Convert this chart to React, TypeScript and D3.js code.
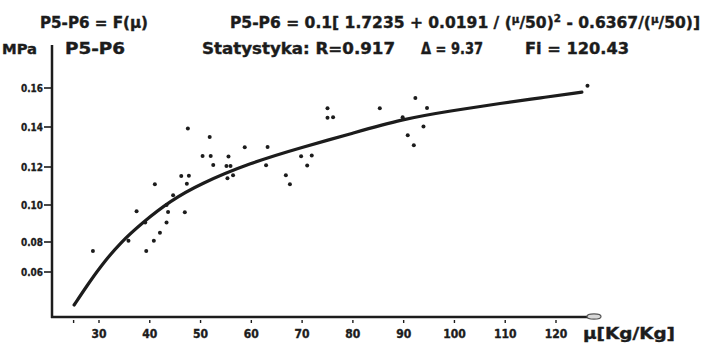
import React from "react";
import * as d3 from "d3";

// ---- data ----
const xTickValues = [30, 40, 50, 60, 70, 80, 90, 100, 110, 120];
const xTickLabels = ["30", "40", "50", "60", "70", "80", "90", "100", "110", "120"];
const xMinorTicks = [25];
const yTickValues = [0.06, 0.08, 0.1, 0.12, 0.14, 0.16];
const yTickLabels = ["0.06", "0.08", "0.10", "0.12", "0.14", "0.16"];
// axis as drawn on the original (uneven spacing of the graduations)
const yAxisPixels = [272, 242, 205, 167, 127, 88];

const pointMu = [
  28.8, 35.8, 39.3, 40.8, 42.0, 37.4, 39.1, 43.3, 43.6, 43.3, 46.9, 41.0, 44.6,
  46.2, 47.7, 47.3, 47.5, 51.8, 50.4, 52.0, 52.5, 55.5, 55.1, 55.9, 55.3, 56.4,
  58.7, 63.2, 62.9, 66.8, 67.6, 69.8, 71.9, 71.0, 75.0, 75.0, 76.1, 85.3, 89.8,
  92.3, 94.6, 93.9, 90.8, 92.0, 126.2,
];
const pointP = [
  0.074, 0.0807, 0.074, 0.0807, 0.085, 0.0966, 0.0906, 0.0906, 0.0962, 0.1,
  0.0961, 0.1109, 0.1051, 0.1153, 0.1154, 0.1112, 0.1392, 0.135, 0.1255, 0.1255,
  0.121, 0.1252, 0.1205, 0.1205, 0.1141, 0.1156, 0.1299, 0.13, 0.1209, 0.1156,
  0.1109, 0.1254, 0.1257, 0.1207, 0.1496, 0.1448, 0.145, 0.1496, 0.145, 0.1549,
  0.1497, 0.1402, 0.1359, 0.1309, 0.1612,
];

const curveMu = [25.1, 27.6, 30.2, 34.1, 38.7, 44.0, 49.9, 59.7, 70.2, 79.4, 89.8, 99.1, 109.5, 116.8, 125.1];
const curveP = [0.038, 0.0507, 0.0633, 0.0793, 0.0908, 0.1021, 0.1111, 0.122, 0.13, 0.1365, 0.1441, 0.1482, 0.1523, 0.1549, 0.1579];

const W = 704;
const H = 343;
const INK = "#1c1c1c";
const FONT = "'DejaVu Sans Condensed', 'Liberation Sans Narrow', 'DejaVu Sans', sans-serif";

export default function App() {
  const x = d3.scaleLinear().domain([30, 120]).range([99, 556]);
  const y = d3.scaleLinear().domain(yTickValues).range(yAxisPixels);

  const axisX = 52;
  const axisY = 317;

  const curveData = curveMu.map((m, i) => [m, curveP[i]] as [number, number]);
  const line = d3
    .line<[number, number]>()
    .x((d) => x(d[0]))
    .y((d) => y(d[1]))
    .curve(d3.curveBasis);

  const pts = pointMu.map((m, i) => ({ m, p: pointP[i] }));

  return (
    <svg
      width={W}
      height={H}
      viewBox={`0 0 ${W} ${H}`}
      style={{ position: "absolute", left: 0, top: 0, background: "#fff" }}
    >
      <rect x={0} y={0} width={W} height={H} fill="#fff" />
      <g fontFamily={FONT} fontWeight="bold" fill={INK} stroke={INK} strokeWidth={0.35}>
        {/* header line 1 */}
        <text x={40} y={28} fontSize={15} textLength={108} lengthAdjust="spacingAndGlyphs">
          P5-P6 = F(μ)
        </text>
        <text x={230} y={28} fontSize={15} textLength={470} lengthAdjust="spacingAndGlyphs">
          P5-P6 = 0.1[ 1.7235 + 0.0191 / (
          <tspan fontSize={10} dy={-5}>μ</tspan>
          <tspan dy={5}>/50)</tspan>
          <tspan fontSize={10} dy={-6}>2</tspan>
          <tspan dy={6}> - 0.6367/(</tspan>
          <tspan fontSize={10} dy={-5}>μ</tspan>
          <tspan dy={5}>/50)]</tspan>
        </text>
        {/* header line 2 */}
        <text x={2} y={54} fontSize={14} textLength={35} lengthAdjust="spacingAndGlyphs">
          MPa
        </text>
        <text x={65} y={54} fontSize={15} textLength={60} lengthAdjust="spacingAndGlyphs">
          P5-P6
        </text>
        <text x={202} y={54} fontSize={15} textLength={193} lengthAdjust="spacingAndGlyphs">
          Statystyka: R=0.917
        </text>
        <text x={421} y={54} fontSize={15} textLength={62} lengthAdjust="spacingAndGlyphs">
          Δ = 9.37
        </text>
        <text x={525} y={54} fontSize={15} textLength={104} lengthAdjust="spacingAndGlyphs">
          Fi = 120.43
        </text>
      </g>

      {/* axes */}
      <line x1={axisX} y1={45} x2={axisX} y2={axisY + 1} stroke={INK} strokeWidth={2.5} />
      <line x1={axisX - 1} y1={axisY} x2={588} y2={axisY} stroke={INK} strokeWidth={2.5} />
      <ellipse cx={594} cy={axisY - 0.5} rx={7} ry={2.6} fill="#d8d8d8" stroke="#555" strokeWidth={1.2} />

      {/* y ticks */}
      <g fontFamily={FONT} fontWeight="bold" fill={INK}>
        {yTickValues.map((v, i) => (
          <g key={"y" + i}>
            <line x1={axisX - 8} x2={axisX - 1} y1={y(v)} y2={y(v)} stroke={INK} strokeWidth={1.6} />
            <text x={axisX - 9} y={y(v)} dy="0.35em" fontSize={10} textAnchor="end" textLength={22} lengthAdjust="spacingAndGlyphs" stroke={INK} strokeWidth={0.3}>
              {yTickLabels[i]}
            </text>
          </g>
        ))}
      </g>

      {/* x ticks */}
      <g fontFamily={FONT} fontWeight="bold" fill={INK}>
        {xMinorTicks.map((v, i) => (
          <line key={"xm" + i} x1={x(v)} x2={x(v)} y1={axisY + 3} y2={axisY + 6} stroke={INK} strokeWidth={1.4} />
        ))}
        {xTickValues.map((v, i) => (
          <g key={"x" + i}>
            <line x1={x(v)} x2={x(v)} y1={axisY + 3} y2={axisY + 6} stroke={INK} strokeWidth={1.4} />
            <text x={x(v)} y={338} fontSize={12} textAnchor="middle" stroke={INK} strokeWidth={0.35}>
              {xTickLabels[i]}
            </text>
          </g>
        ))}
        <text x={583} y={339} fontSize={15} textLength={92} lengthAdjust="spacingAndGlyphs" stroke={INK} strokeWidth={0.35}>
          μ[Kg/Kg]
        </text>
      </g>

      {/* fitted curve */}
      <path d={line(curveData) || ""} fill="none" stroke={INK} strokeWidth={3.2} strokeLinecap="round" />

      {/* observations */}
      {pts.map((d, i) => (
        <circle key={"p" + i} cx={x(d.m)} cy={y(d.p)} r={2} fill={INK} />
      ))}
    </svg>
  );
}
